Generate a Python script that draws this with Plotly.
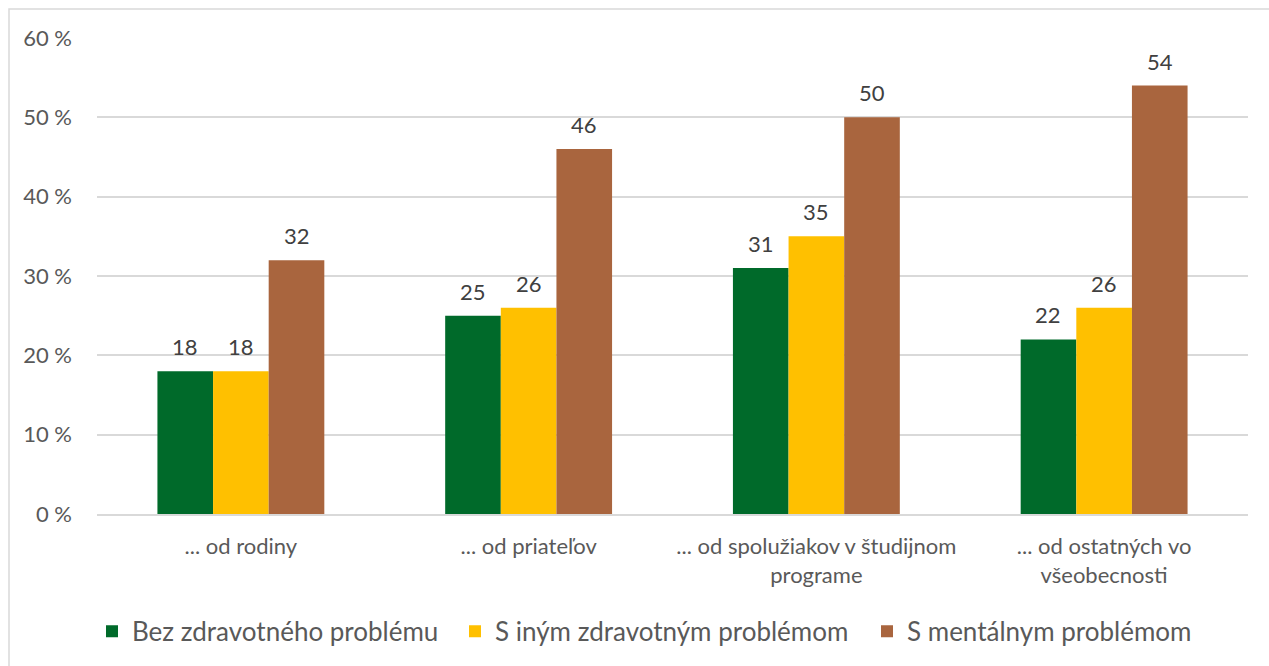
import plotly.graph_objects as go

categories = [
    "... od rodiny",
    "... od priateľov",
    "... od spolužiakov v študijnom<br>programe",
    "... od ostatných vo<br>všeobecnosti",
]
series_names = [
    "Bez zdravotného problému",
    "S iným zdravotným problémom",
    "S mentálnym problémom",
]
values_bez = [18, 25, 31, 22]
values_iny = [18, 26, 35, 26]
values_mental = [32, 46, 50, 54]
colors = ["#006A2A", "#FFC000", "#A9653E"]

y_ticks = [0, 10, 20, 30, 40, 50, 60]
y_tick_text = [f"{v} %" for v in y_ticks]

W, H = 1269, 666
L, R, T, B = 97, 21, 38, 152
plot_w = W - L - R
plot_h = H - T - B
FONT = "Lato, Open Sans, sans-serif"
BARGAP = 0.42

all_series = [values_bez, values_iny, values_mental]
n_series = len(all_series)
# pixel width of one bar inside a category slot
bar_px = plot_w / len(categories) * (1 - BARGAP) / n_series

# left pixel edge of each legend entry
legend_left_px = [92, 455, 867]
legend_ids = ["legend", "legend2", "legend3"]

fig = go.Figure()
for name, vals, col, lg in zip(series_names, all_series, colors, legend_ids):
    fig.add_trace(go.Bar(
        x=categories, y=vals, name=name, legend=lg,
        marker=dict(color=col, line=dict(width=0)),
    ))

# value labels above each bar
for k, vals in enumerate(all_series):
    shift = (k - (n_series - 1) / 2) * bar_px
    for cat, v in zip(categories, vals):
        fig.add_annotation(
            x=cat, y=v, text=str(v), showarrow=False,
            xshift=shift, yshift=9, yanchor="bottom",
            font=dict(size=22, color="#404040", family=FONT),
        )

# outer chart border (only top and left edges fall inside the canvas)
fig.add_shape(
    type="rect", xref="paper", yref="paper",
    x0=(9 - L) / plot_w, x1=(W + 20 - L) / plot_w,
    y0=(H - B - (H + 20)) / plot_h, y1=(H - B - 9) / plot_h,
    line=dict(color="#D9D9D9", width=1.5), fillcolor="rgba(0,0,0,0)", layer="below",
)

legend_common = dict(
    orientation="h", xanchor="left", y=-0.197, yanchor="top",
    font=dict(size=26, color="#595959", family=FONT), itemwidth=30,
    bgcolor="rgba(0,0,0,0)",
)
legend_layout = {
    lg: dict(legend_common, x=(px - L) / plot_w)
    for lg, px in zip(legend_ids, legend_left_px)
}

fig.update_layout(
    width=W, height=H,
    margin=dict(l=L, r=R, t=T, b=B, autoexpand=False),
    paper_bgcolor="white", plot_bgcolor="white",
    barmode="group", bargap=BARGAP, bargroupgap=0,
    font=dict(family=FONT, color="#595959", size=21),
    showlegend=True,
    **legend_layout,
)
fig.update_xaxes(
    showline=True, linecolor="#D9D9D9", linewidth=1.5,
    ticks="", ticklabelstandoff=12, automargin=False,
    tickfont=dict(size=22, color="#595959"),
)
fig.update_yaxes(
    range=[0, 60], tickvals=y_ticks, ticktext=y_tick_text,
    showgrid=True, gridcolor="#D9D9D9", gridwidth=1.5,
    zeroline=False, showline=False, ticks="", automargin=False,
    ticklabelstandoff=24,
    tickfont=dict(size=22, color="#595959"),
)

fig.write_html("out.html")
